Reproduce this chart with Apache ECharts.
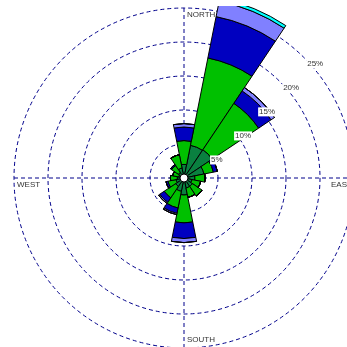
<!DOCTYPE html>
<html>
<head>
<meta charset="utf-8">
<script src="https://cdn.jsdelivr.net/npm/echarts@6/dist/echarts.min.js"></script>
<style>
  html, body { margin: 0; padding: 0; background: #fff; overflow: hidden; }
  /* plot box starts a few pixels below the page top and clips long petals */
  #chart { position: absolute; left: 0; top: 6px; width: 347px; height: 341px; }
</style>
</head>
<body>
<div id="chart"></div>
<script>
// Wind directions, clockwise from north
const directions = ['N', 'NNE', 'NE', 'ENE', 'E', 'ESE', 'SE', 'SSE',
                    'S', 'SSW', 'SW', 'WSW', 'W', 'WNW', 'NW', 'NNW'];

// Frequency (%) per speed class and direction
const speed1 = [2.0, 4.9, 5.0, 3.0, 1.6, 1.2, 1.5, 1.5, 2.5, 2.0, 1.5, 1.2, 1.0, 0.8, 1.0, 1.5];
const speed2 = [3.5, 13.1, 8.2, 1.4, 1.5, 1.3, 1.7, 1.4, 4.1, 2.5, 2.0, 1.2, 1.0, 0.9, 1.2, 2.0];
const speed3 = [2.0, 6.2, 2.2, 0.6, 0, 0, 0, 0, 2.3, 0.8, 0.8, 0.3, 0, 0, 0.2, 0];
const speed4 = [0.5, 2.3, 0.6, 0, 0, 0, 0, 0, 0.6, 0.2, 0.2, 0, 0, 0, 0, 0];
const speed5 = [0, 0.45, 0, 0, 0, 0, 0, 0, 0, 0, 0, 0, 0, 0, 0, 0];

// Frequency rings and their labels
const ringValues = [5, 10, 15, 20, 25];
const ringLabels = ['5%', '10%', '15%', '20%', '25%'];

// Compass labels
const compassLabels = ['NORTH', 'EAST', 'SOUTH', 'WEST'];

const classColors = ['#0a8040', '#00c000', '#0000c0', '#8080ff', '#00ffff'];
const classData = [speed1, speed2, speed3, speed4, speed5];

// Plot geometry (inside the chart box): outermost drawn ring is 25 %,
// the radius axis extends to 30 % so long petals are not clamped
const CX = 184, CY = 172, R25 = 170, RMAX = 30;
const R = R25 * RMAX / 25;
const ringColor = '#00008b';
const fontFamily = 'Liberation Sans, Arial, sans-serif';

const chart = echarts.init(document.getElementById('chart'), null, { renderer: 'canvas' });

const series = classData.map((d, i) => ({
  type: 'bar',
  coordinateSystem: 'polar',
  stack: 'speed',
  data: d,
  barCategoryGap: '0%',
  barGap: '0%',
  itemStyle: { color: classColors[i], borderColor: '#000', borderWidth: 1 },
  silent: true,
  animation: false,
  z: 3
}));

// Graphic overlays: diameters, compass names, ring labels, calm circle
const graphics = [];
graphics.push({
  type: 'line', z: 1, silent: true,
  shape: { x1: CX, y1: CY - R25, x2: CX, y2: CY + R25 },
  style: { stroke: ringColor, lineWidth: 1, lineDash: [4, 3] }
});
graphics.push({
  type: 'line', z: 1, silent: true,
  shape: { x1: CX - R25, y1: CY, x2: CX + R25, y2: CY },
  style: { stroke: ringColor, lineWidth: 1, lineDash: [4, 3] }
});

const compassPos = [
  [CX + 3, CY - R25 + 7],
  [CX + R25 - 23, CY + 7],
  [CX + 3, CY + R25 - 8],
  [CX - R25 + 3, CY + 7]
];
compassLabels.forEach((t, i) => {
  graphics.push({
    type: 'text', z: 10, silent: true,
    x: compassPos[i][0], y: compassPos[i][1],
    style: { text: t, fill: '#333', font: '8px ' + fontFamily, align: 'left', verticalAlign: 'middle' }
  });
});

// Ring labels sit just below-right of each ring on the north-east diagonal
const labelAngle = 45 * Math.PI / 180;
ringValues.forEach((v, i) => {
  const r = v / 25 * R25;
  graphics.push({
    type: 'text', z: 10, silent: true,
    x: CX + r * Math.sin(labelAngle) + 2,
    y: CY - r * Math.cos(labelAngle) + 6,
    style: {
      text: ringLabels[i], fill: '#333', font: '8px ' + fontFamily,
      align: 'left', verticalAlign: 'middle',
      backgroundColor: '#fff', padding: [1, 1, 0, 1]
    }
  });
});

graphics.push({
  type: 'circle', z: 10, silent: true,
  shape: { cx: CX, cy: CY, r: 4 },
  style: { fill: '#fff', stroke: '#000', lineWidth: 1 }
});

// Ring colours: rings at 0..25 % drawn, the 30 % bound hidden
const ringColors = ringValues.map(() => ringColor);
ringColors.unshift(ringColor);
ringColors.push('rgba(0,0,0,0)');

chart.setOption({
  backgroundColor: '#fff',
  animation: false,
  polar: { center: [CX, CY], radius: R },
  angleAxis: {
    type: 'category',
    data: directions,
    startAngle: 90 + 360 / 32,
    clockwise: true,
    boundaryGap: true,
    axisLine: { show: false },
    axisTick: { show: false },
    axisLabel: { show: false },
    splitLine: { show: false },
    z: 1
  },
  radiusAxis: {
    type: 'value',
    min: 0,
    max: RMAX,
    interval: 5,
    axisLine: { show: false },
    axisTick: { show: false },
    axisLabel: { show: false },
    splitLine: { show: true, lineStyle: { color: ringColors, type: [4, 3], width: 1 } },
    z: 1
  },
  series: series,
  graphic: graphics
});
</script>
</body>
</html>
